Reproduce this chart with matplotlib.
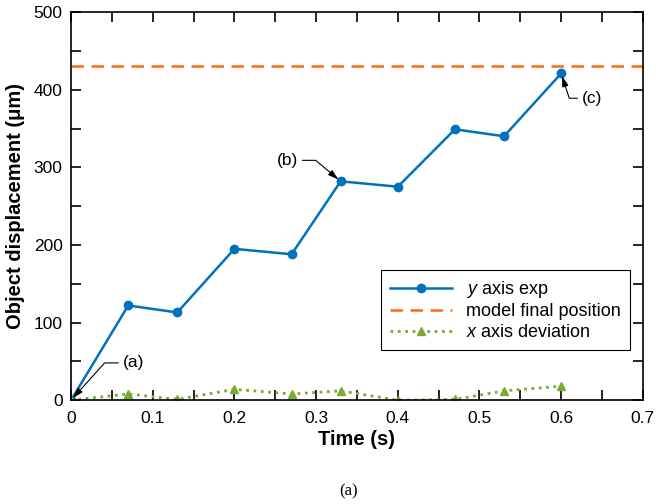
import matplotlib
matplotlib.use("Agg")
import matplotlib.pyplot as plt
from matplotlib.ticker import MultipleLocator

plt.rcParams['font.family'] = ['Liberation Sans', 'DejaVu Sans']
plt.rcParams['mathtext.fontset'] = 'custom'
plt.rcParams['mathtext.it'] = 'Liberation Sans:italic'
plt.rcParams['mathtext.rm'] = 'Liberation Sans'

time = [0, 0.07, 0.13, 0.2, 0.27, 0.33, 0.4, 0.47, 0.53, 0.6]
y_exp = [0, 122, 113, 195, 188, 282, 275, 349, 340, 421]
x_dev = [0, 8, 1, 14, 8, 12, 0, 1, 12, 18]
model_final = 431
xtick_labels = ['0', '0.1', '0.2', '0.3', '0.4', '0.5', '0.6', '0.7']

fig = plt.figure(figsize=(6.58, 5.04), dpi=100)
ax = fig.add_axes([0.108, 0.206, 0.869, 0.770])

ax.plot(time, y_exp, '-o', color='#0072BD', lw=1.8, ms=6, label='$y$ axis exp')
ax.axhline(model_final, color='#FF6A13', lw=1.8, ls=(0, (5, 3)), label='model final position')
ax.plot(time, x_dev, ':^', color='#77AC30', lw=2, ms=6, label='$x$ axis deviation')

ax.set_xlim(0, 0.7)
ax.set_ylim(0, 500)
ax.set_xticks([0, 0.1, 0.2, 0.3, 0.4, 0.5, 0.6, 0.7])
ax.set_xticklabels(xtick_labels)
ax.xaxis.set_minor_locator(MultipleLocator(0.05))
ax.yaxis.set_major_locator(MultipleLocator(100))
ax.yaxis.set_minor_locator(MultipleLocator(50))
ax.tick_params(which='both', direction='in', top=True, right=True, labelsize=12.5, width=1.2, length=7)
ax.tick_params(axis='x', pad=8)
ax.tick_params(axis='y', pad=6)
for s in ax.spines.values():
    s.set_linewidth(1.2)

ax.set_xlabel('Time (s)', fontsize=14.5, fontweight='bold', labelpad=3)
ax.set_ylabel('Object displacement (\u03bcm)', fontsize=14.5, fontweight='bold', labelpad=6)

arrow = dict(arrowstyle='-|>,head_length=0.5,head_width=0.15', color='black', lw=0.8,
             shrinkA=1, shrinkB=2)
ax.annotate('(a)', xy=(time[0], y_exp[0]), xytext=(0.063, 48), fontsize=12.5,
            va='center', ha='left',
            arrowprops=dict(arrow, connectionstyle='angle,angleA=0,angleB=48,rad=0'))
ax.annotate('(b)', xy=(time[5], y_exp[5]), xytext=(0.252, 309), fontsize=12.5,
            va='center', ha='left',
            arrowprops=dict(arrow, connectionstyle='angle,angleA=0,angleB=140,rad=0'))
ax.annotate('(c)', xy=(time[9], y_exp[9]), xytext=(0.625, 389), fontsize=12.5,
            va='center', ha='left',
            arrowprops=dict(arrow, connectionstyle='angle,angleA=0,angleB=-72,rad=0'))

leg = ax.legend(loc='lower right', bbox_to_anchor=(1 - 13 / 572, 0.129), borderaxespad=0,
                fontsize=13, fancybox=False, edgecolor='black', framealpha=1,
                handlelength=3.4, handletextpad=0.8, borderpad=0.5, labelspacing=0.2)
leg.get_frame().set_linewidth(0.8)

fig.text(0.53, 0.018, '(a)', family='Liberation Serif', fontsize=12, ha='center')

fig.savefig('out.png', dpi=100)
